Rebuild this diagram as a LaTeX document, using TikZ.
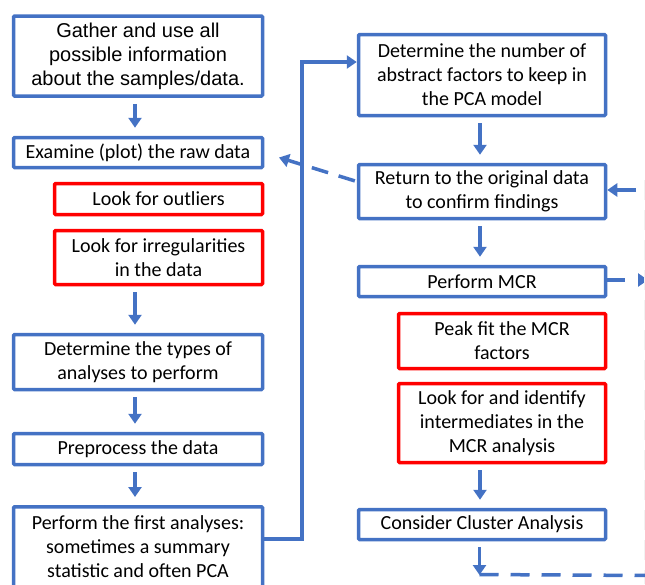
\documentclass[tikz,border=0pt]{standalone}
\usepackage{fontspec}
\setmainfont{Carlito}
\newfontfamily\arialfont{Liberation Sans}
\usetikzlibrary{arrows.meta}
\definecolor{flowblue}{HTML}{4472C4}
\definecolor{flowred}{HTML}{FF0000}

\begin{document}
\begin{tikzpicture}[x=1pt,y=-1pt,
  stepbox/.style={draw=flowblue, line width=3.5pt, rounded corners=1pt,
    align=center, inner sep=0pt, font=\fontsize{20}{24}\selectfont},
  checkbox/.style={stepbox, draw=flowred},
  arr/.style={flowblue, line width=3.5pt,
    -{Triangle[width=13pt,length=10pt]}, shorten <=6pt, shorten >=8pt},
  link/.style={flowblue, line width=3.5pt}
]
\useasboundingbox (0,0) rectangle (645,584);

% left column
\node[stepbox, minimum width=249pt, minimum height=80pt, font=\arialfont\fontsize{20}{24}\selectfont]
  (gather) at (138,56) {Gather and use all\\possible information\\about the samples/data.};
\node[stepbox, minimum width=249pt, minimum height=30pt] (examine) at (138,152.5)
  {Examine (plot) the raw data};
\node[checkbox, minimum width=208pt, minimum height=31pt] (outliers) at (158.5,199)
  {Look for outliers};
\node[checkbox, minimum width=208pt, minimum height=54pt] (irreg) at (158.5,257.5)
  {Look for irregularities\\in the data};
\node[stepbox, minimum width=249pt, minimum height=55pt] (types) at (138,362)
  {Determine the types of\\analyses to perform};
\node[stepbox, minimum width=249pt, minimum height=31pt] (prep) at (138,449)
  {Preprocess the data};
\node[stepbox, minimum width=249pt, minimum height=80pt, anchor=north] (first) at (138,505)
  {Perform the first analyses:\\sometimes a summary\\statistic and often PCA};

% right column
\node[stepbox, minimum width=247pt, minimum height=81pt] (number) at (482,75)
  {Determine the number of\\abstract factors to keep in\\the PCA model};
\node[stepbox, minimum width=247pt, minimum height=54pt] (return) at (482,191.5)
  {Return to the original data\\to confirm findings};
\node[stepbox, minimum width=247pt, minimum height=30pt] (mcr) at (482,281.5)
  {Perform MCR};
\node[checkbox, minimum width=207pt, minimum height=55pt] (peak) at (502,341)
  {Peak fit the MCR\\factors};
\node[checkbox, minimum width=207pt, minimum height=79pt] (inter) at (502,423)
  {Look for and identify\\intermediates in the\\MCR analysis};
\node[stepbox, minimum width=247pt, minimum height=30pt] (cluster) at (482,524.5)
  {Consider Cluster Analysis};

% vertical steps
\draw[arr] ([xshift=-3pt]gather.south) -- ([xshift=-3pt]examine.north);
\draw[arr] ([xshift=-23.5pt]irreg.south) -- ([xshift=-3pt]types.north);
\draw[arr] ([xshift=-3pt]types.south) -- ([xshift=-3pt]prep.north);
\draw[arr] ([xshift=-3pt]prep.south) -- ([xshift=-3pt]first.north);
\draw[arr] ([xshift=-2pt]number.south) -- ([xshift=-2pt]return.north);
\draw[arr] ([xshift=-2pt]return.south) -- ([xshift=-2pt]mcr.north);
\draw[arr] ([xshift=-22pt]inter.south) -- ([xshift=-2pt]cluster.north);

% from the first analyses up to the PCA model
\coordinate (riseBot) at (302,539);
\coordinate (riseTop) at (302,62);
\draw[link, -{Triangle[width=13pt,length=10pt]}]
  (first.east |- riseBot) -- (riseBot) -- (riseTop) -- (number.west |- riseTop);

% dashed return to the raw data
\coordinate (backTip) at (279,157.5);
\draw[link, dash pattern=on 17pt off 11pt, -{Triangle[width=13pt,length=10pt]}, shorten <=2pt]
  ([yshift=10pt]return.west) -- (backTip);

% loop on the right edge
\coordinate (loopIn) at (636,190);
\draw[link, -{Triangle[width=13pt,length=10pt]}] (loopIn) -- (return.east |- loopIn);
\coordinate (mcrOut) at (648,280);
\draw[link, dash pattern=on 18pt off 40pt, -{Triangle[width=13pt,length=10pt]}]
  (mcr.east |- mcrOut) -- (mcrOut);
\draw[black!5, line width=1pt, dash pattern=on 20pt off 10pt] (644.5,180) -- (644.5,584);

% cluster analysis step down
\coordinate (clusterEnd) at (479.5,575);
\draw[arr, shorten >=0pt] (cluster.south -| clusterEnd) -- (clusterEnd);
\coordinate (dashEnd) at (650,575.5);
\draw[link, dash pattern=on 19pt off 12pt] ([yshift=0.5pt]clusterEnd) -- (dashEnd);
\end{tikzpicture}
\end{document}
